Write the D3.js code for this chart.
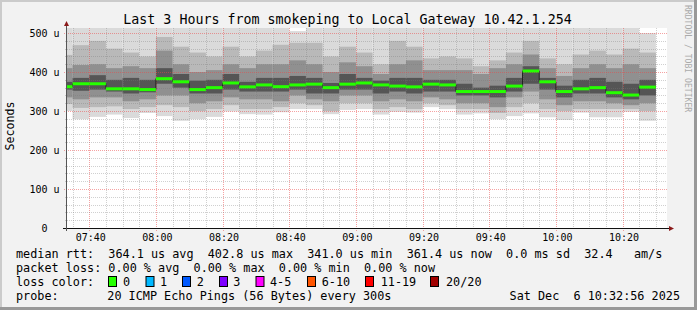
<!DOCTYPE html>
<html>
<head>
<meta charset="utf-8">
<script src="https://cdn.jsdelivr.net/npm/d3@7/dist/d3.min.js"></script>
<style>
  html, body { margin: 0; padding: 0; background: #f2f2f2; }
  svg { display: block; }
  text { font-family: "DejaVu Sans Mono", monospace; white-space: pre; }
</style>
</head>
<body>
<svg id="chart" width="697" height="310"></svg>
<script>
// time window of the graph (3 hours)
const windowStart = "07:33:20";
const windowEnd = "10:33:20";

// end of each 5 minute ping slot
const slotEnd = ["07:35", "07:40", "07:45", "07:50", "07:55", "08:00", "08:05", "08:10", "08:15",
  "08:20", "08:25", "08:30", "08:35", "08:40", "08:45", "08:50", "08:55", "09:00", "09:05",
  "09:10", "09:15", "09:20", "09:25", "09:30", "09:35", "09:40", "09:45", "09:50", "09:55",
  "10:00", "10:05", "10:10", "10:15", "10:20", "10:25", "10:30"];

// median rtt per slot (us)
const median = [362.5, 370, 370, 357, 357, 355, 383, 375, 355, 360, 372, 362, 367, 362.5, 367, 369,
  360, 369, 372, 367, 364, 362, 369, 367, 350, 350, 350, 364, 402.8, 375, 350, 357, 360, 347, 341, 361.4];

const pingMin = [300, 279, 285, 291, 282, 295, 287, 275, 279, 285, 299, 292, 291, 297, 305, 305,
  292, 303, 305, 291, 298, 296, 310, 305, 291, 294, 279, 287, 294, 284, 277, 296, 284, 284, 298, 275];
const ping3 = [318, 308, 310, 312, 305, 310, 315, 310, 300, 305, 315, 305, 305, 310, 320, 315,
  300, 320, 320, 305, 310, 305, 320, 315, 305, 305, 295, 310, 320, 305, 300, 305, 305, 305, 305, 300];
const ping6 = [335, 330, 335, 335, 325, 330, 340, 340, 320, 325, 335, 330, 330, 325, 340, 330,
  325, 340, 340, 325, 330, 325, 335, 330, 320, 320, 310, 335, 350, 330, 315, 325, 325, 320, 315, 320];
const ping9 = [355, 352, 355, 350, 345, 348, 370, 360, 345, 345, 355, 350, 350, 350, 355, 345,
  345, 355, 355, 345, 350, 345, 350, 350, 340, 340, 335, 350, 370, 355, 335, 345, 345, 335, 330, 340];
const ping12 = [375, 385, 392, 380, 385, 380, 410, 395, 378, 380, 395, 375, 385, 385, 390, 385,
  372, 395, 385, 378, 385, 385, 380, 380, 370, 360, 365, 385, 415, 385, 365, 380, 385, 375, 370, 380];
const ping15 = [410, 418, 420, 410, 415, 410, 455, 420, 400, 405, 420, 410, 420, 420, 430, 420,
  400, 425, 415, 395, 420, 430, 405, 405, 405, 395, 410, 420, 445, 410, 390, 410, 420, 410, 420, 410];
const ping18 = [444, 469, 480, 460, 450, 440, 490, 465, 450, 440, 465, 440, 455, 470, 475, 475,
  440, 465, 450, 420, 480, 465, 435, 440, 435, 415, 430, 450, 480, 435, 420, 445, 455, 445, 460, 450];
const pingMax = [520, 520, 520, 520, 520, 520, 520, 520, 520, 520, 520, 520, 520, 520, 505, 520,
  520, 520, 520, 520, 520, 520, 520, 520, 520, 520, 520, 520, 520, 520, 520, 520, 520, 520, 520, 500];

// axis ticks
const yTicks = [0, 100, 200, 300, 400, 500];
const yTickLabels = ["0", "100 u", "200 u", "300 u", "400 u", "500 u"];
const xTickLabels = ["07:40", "08:00", "08:20", "08:40", "09:00", "09:20", "09:40", "10:00", "10:20"];

// legend
const lossColors = ["#26ff00", "#00b8ff", "#0059ff", "#7e00ff", "#ff00ff", "#ff5500", "#ff0000", "#a10000"];
const lossLabels = ["0", "1", "2", "3", "4-5", "6-10", "11-19", "20/20"];
const title = "Last 3 Hours from smokeping to Local Gateway 10.42.1.254";
const rttLine = "median rtt:  364.1 us avg  402.8 us max  341.0 us min  361.4 us now  0.0 ms sd  32.4   am/s";
const lossLine = "packet loss: 0.00 % avg  0.00 % max  0.00 % min  0.00 % now";
const probeText = "20 ICMP Echo Pings (56 Bytes) every 300s";
const stamp = "Sat Dec  6 10:32:56 2025";

const parseHM = d3.timeParse("%H:%M");
const parseHMS = d3.timeParse("%H:%M:%S");
const t0 = parseHMS(windowStart), t1 = parseHMS(windowEnd);

const plot = { left: 67, right: 667, top: 28, bottom: 228 };
const x = d3.scaleTime().domain([t0, t1]).range([plot.left, plot.right]);
const y = d3.scaleLinear().domain([0, 513]).range([plot.bottom, plot.top]);

const svg = d3.select("#chart");

// background + shade frame
svg.append("rect").attr("width", 697).attr("height", 310).attr("fill", "#f2f2f2");
svg.append("rect").attr("x", 0).attr("y", 0).attr("width", 697).attr("height", 2).attr("fill", "#cbcbcb");
svg.append("rect").attr("x", 0).attr("y", 0).attr("width", 2).attr("height", 310).attr("fill", "#cbcbcb");
svg.append("rect").attr("x", 0).attr("y", 307).attr("width", 697).attr("height", 3).attr("fill", "#999999");
svg.append("rect").attr("x", 694).attr("y", 0).attr("width", 3).attr("height", 310).attr("fill", "#999999");

// canvas
svg.append("rect")
  .attr("x", plot.left).attr("y", plot.top)
  .attr("width", plot.right - plot.left).attr("height", plot.bottom - plot.top)
  .attr("fill", "#ffffff");

svg.append("clipPath").attr("id", "clip")
  .append("rect")
  .attr("x", plot.left).attr("y", plot.top)
  .attr("width", plot.right - plot.left).attr("height", plot.bottom - plot.top);

const slots = slotEnd.map((s, i) => {
  const end = parseHM(s);
  const start = new Date(Math.max(+d3.timeMinute.offset(end, -5), +t0));
  return { start, end, i };
});

// smoke: nested bands, darker towards the median
const bands = [
  { lo: pingMin, hi: pingMax, color: "#dadada" },
  { lo: ping3, hi: ping18, color: "#b9b9b9" },
  { lo: ping6, hi: ping15, color: "#909090" },
  { lo: ping9, hi: ping12, color: "#555555" }
];

const smoke = svg.append("g").attr("clip-path", "url(#clip)");
bands.forEach(b => {
  smoke.append("g").selectAll("rect")
    .data(slots)
    .join("rect")
    .attr("x", d => x(d.start))
    .attr("width", d => x(d.end) - x(d.start))
    .attr("y", d => y(b.hi[d.i]))
    .attr("height", d => y(b.lo[d.i]) - y(b.hi[d.i]))
    .attr("fill", b.color);
});

// grid
const grid = svg.append("g");
const allMinutes = d3.timeMinute.every(5).range(t0, t1);
allMinutes.forEach(t => {
  const major = t.getMinutes() % 20 === 0;
  const xp = Math.round(x(t)) + 0.5;
  grid.append("line")
    .attr("x1", xp).attr("x2", xp).attr("y1", plot.top).attr("y2", plot.bottom + (major ? 3 : 2))
    .attr("stroke", major ? "rgba(235,70,70,0.5)" : "rgba(120,120,120,0.35)")
    .attr("stroke-dasharray", "1,1");
});
d3.range(20, 513, 20).forEach(v => {
  const major = v % 100 === 0;
  const yp = Math.round(y(v)) + 0.5;
  grid.append("line")
    .attr("x1", plot.left - (major ? 3 : 2)).attr("x2", plot.right).attr("y1", yp).attr("y2", yp)
    .attr("stroke", major ? "rgba(235,70,70,0.5)" : "rgba(120,120,120,0.35)")
    .attr("stroke-dasharray", "1,1");
});

// median: dark step line + loss coloured band
const medPts = slots.flatMap(d => [[d.start, median[d.i]], [d.end, median[d.i]]]);
svg.append("path")
  .datum(medPts)
  .attr("fill", "none")
  .attr("stroke", "#202020")
  .attr("stroke-width", 1)
  .attr("d", d3.line().x(d => x(d[0])).y(d => y(d[1])));

svg.append("g").selectAll("rect")
  .data(slots)
  .join("rect")
  .attr("x", d => x(d.start))
  .attr("width", d => x(d.end) - x(d.start))
  .attr("y", d => y(median[d.i]) - 1.5)
  .attr("height", 3)
  .attr("fill", lossColors[0]);

// axes
const yAxis = svg.append("g")
  .attr("transform", `translate(${plot.left},0)`)
  .call(d3.axisLeft(y).tickValues(yTicks)
    .tickFormat((d, i) => yTickLabels[i].includes(" ") ? yTickLabels[i] : yTickLabels[i] + "\u00a0\u00a0")
    .tickSize(0).tickPadding(7.5));
yAxis.select(".domain").remove();
yAxis.selectAll("text").attr("font-family", "DejaVu Sans Mono").attr("font-size", 10).attr("fill", "#000").attr("dy", "0.36em");

const xAxis = svg.append("g")
  .attr("transform", `translate(0,${plot.bottom})`)
  .call(d3.axisBottom(x).tickValues(xTickLabels.map(parseHM))
    .tickFormat(d3.timeFormat("%H:%M")).tickSize(0));
xAxis.select(".domain").remove();
xAxis.selectAll("text").attr("font-family", "DejaVu Sans Mono").attr("font-size", 10).attr("fill", "#000")
  .attr("y", 6).attr("dx", 1);

svg.append("line").attr("x1", plot.left - 4).attr("x2", plot.right + 2)
  .attr("y1", plot.bottom + 0.5).attr("y2", plot.bottom + 0.5).attr("stroke", "#111");
svg.append("line").attr("x1", plot.left - 0.5).attr("x2", plot.left - 0.5)
  .attr("y1", plot.bottom + 3).attr("y2", plot.top - 4).attr("stroke", "#555");
svg.append("path").attr("d", `M${plot.left - 3},${plot.top - 2}L${plot.left - 0.5},${plot.top - 7}L${plot.left + 2},${plot.top - 2}Z`)
  .attr("fill", "#8b1a1a");
svg.append("path").attr("d", `M${plot.right + 2},${plot.bottom - 2}L${plot.right + 7},${plot.bottom + 0.5}L${plot.right + 2},${plot.bottom + 3}Z`)
  .attr("fill", "#8b1a1a");

// title and labels
svg.append("text").attr("x", 347.5).attr("y", 24).attr("text-anchor", "middle")
  .attr("font-size", 13.3).attr("fill", "#000").text(title);
svg.append("text").attr("transform", "translate(14,126) rotate(-90)").attr("text-anchor", "middle")
  .attr("font-size", 11.6).attr("fill", "#000").text("Seconds");
svg.append("text").attr("transform", "translate(685,5) rotate(90)")
  .attr("font-size", 8.1).attr("fill", "#aaaaaa").text("RRDTOOL / TOBI OETIKER");

// legend
const lg = svg.append("g").attr("font-size", 11.8).attr("fill", "#000");
lg.append("text").attr("x", 16).attr("y", 258.3).text(rttLine);
lg.append("text").attr("x", 16).attr("y", 272.3).text(lossLine);
lg.append("text").attr("x", 16).attr("y", 286.3).text("loss color:");
const boxX = [108.5, 146, 182.5, 219.5, 256, 307.5, 365.5, 430.5];
const labX = [123, 160, 196.7, 233.3, 270, 321.7, 380.7, 446];
lossColors.forEach((c, i) => {
  lg.append("rect").attr("x", boxX[i]).attr("y", 276.5).attr("width", 8).attr("height", 10)
    .attr("fill", c).attr("stroke", "#000").attr("stroke-width", 1);
  lg.append("text").attr("x", labX[i]).attr("y", 286.3).text(lossLabels[i]);
});
lg.append("text").attr("x", 16).attr("y", 300.3).text("probe:");
lg.append("text").attr("x", 107.3).attr("y", 300.3).text(probeText);
lg.append("text").attr("x", 680).attr("y", 300.3).attr("text-anchor", "end").text(stamp);
</script>
</body>
</html>
